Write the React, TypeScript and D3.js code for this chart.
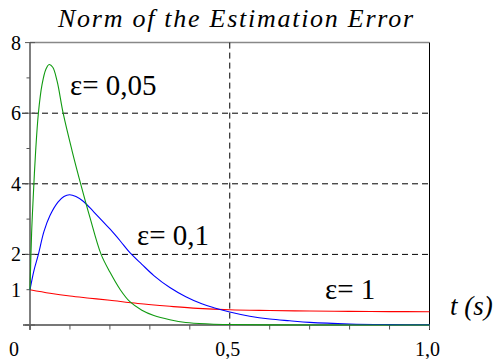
import { useEffect, useRef } from "react";
import * as d3 from "d3";

// values: [t, norm]
const epsSmall: [number, number][] = [
  [0, 1.0], [0.004, 2.6], [0.008, 3.6], [0.014, 4.9], [0.021, 6.0], [0.03, 6.8],
  [0.04, 7.25], [0.048, 7.38], [0.057, 7.3], [0.068, 6.9], [0.083, 6.0],
  [0.105, 4.95], [0.128, 3.95], [0.15, 3.05], [0.178, 2.0], [0.2, 1.5],
  [0.226, 1.0], [0.25, 0.66], [0.28, 0.42], [0.31, 0.27], [0.35, 0.15],
  [0.39, 0.07], [0.45, 0.03], [0.5, 0.015], [0.6, 0.004], [0.8, 0.0], [1.0, 0.0],
];
const epsMid: [number, number][] = [
  [0, 1.0], [0.01, 1.55], [0.021, 2.0], [0.035, 2.65], [0.05, 3.1], [0.07, 3.48],
  [0.085, 3.64], [0.099, 3.69], [0.115, 3.64], [0.134, 3.5], [0.16, 3.2],
  [0.2, 2.72], [0.226, 2.38], [0.25, 2.05], [0.28, 1.72], [0.31, 1.4],
  [0.35, 1.06], [0.39, 0.8], [0.43, 0.6], [0.46, 0.49], [0.5, 0.37],
  [0.55, 0.25], [0.6, 0.17], [0.65, 0.12], [0.7, 0.075], [0.8, 0.03],
  [0.9, 0.012], [1.0, 0.005],
];
const epsOne: [number, number][] = [
  [0, 1.0], [0.05, 0.9], [0.1, 0.82], [0.15, 0.76], [0.2, 0.7], [0.27, 0.61],
  [0.35, 0.53], [0.42, 0.47], [0.5, 0.43], [0.6, 0.41], [0.7, 0.395],
  [0.8, 0.385], [0.9, 0.38], [1.0, 0.375],
];

const xMajorTicks = [0, 0.5, 1.0];
const xTickLabels = ["0", "0,5", "1,0"];
const xMinorTicks = [0.1, 0.2, 0.3, 0.4, 0.6, 0.7, 0.8, 0.9];
const yMajorTicks = [0, 2, 4, 6, 8];
const yMinorTicks = [1, 3, 5, 7];
const yTickLabels = [1, 2, 4, 6, 8];
const yGrid = [2, 4, 6];
const xGrid = [0.5];
const curveLabels = ["ε= 0,05", "ε= 0,1", "ε= 1"];

const SERIF = "Liberation Serif, DejaVu Serif, Times New Roman, serif";

export default function App() {
  const ref = useRef<SVGSVGElement>(null);

  useEffect(() => {
    if (!ref.current) return;
    const svg = d3.select(ref.current);
    svg.selectAll("*").remove();

    const x = d3.scaleLinear().domain([0, 1]).range([30, 429.5]);
    const y = d3.scaleLinear().domain([0, 8]).range([325, 42.6]);

    // title
    svg.append("text")
      .attr("x", 58).attr("y", 27)
      .attr("font-family", SERIF)
      .attr("font-style", "italic").attr("font-size", 26)
      .attr("textLength", 355).attr("lengthAdjust", "spacing")
      .text("Norm of the Estimation Error");

    // frame: top + right
    svg.append("line").attr("x1", x(0)).attr("x2", x(1)).attr("y1", y(8)).attr("y2", y(8))
      .attr("stroke", "#888").attr("stroke-width", 1.5);
    svg.append("line").attr("x1", x(1)).attr("x2", x(1)).attr("y1", y(8)).attr("y2", y(0) + 5)
      .attr("stroke", "#000").attr("stroke-width", 1);

    // dashed grid
    const grid = svg.append("g").attr("stroke", "#000").attr("stroke-width", 1).attr("stroke-dasharray", "6,4");
    grid.selectAll("line.h").data(yGrid).enter().append("line")
      .attr("x1", x(0) - 8).attr("x2", x(1)).attr("y1", (d) => y(d)).attr("y2", (d) => y(d));
    grid.selectAll("line.v").data(xGrid).enter().append("line")
      .attr("x1", (d) => x(d)).attr("x2", (d) => x(d)).attr("y1", y(8)).attr("y2", y(0));

    // axes
    const axes = svg.append("g").attr("stroke", "#555");
    axes.append("line").attr("x1", x(0)).attr("x2", x(0)).attr("y1", y(8)).attr("y2", y(0) + 5).attr("stroke-width", 1.5);
    axes.append("line").attr("x1", x(0) - 7).attr("x2", x(1)).attr("y1", y(0)).attr("y2", y(0))
      .attr("stroke", "#777").attr("stroke-width", 2);
    axes.selectAll("line.ym").data(yMajorTicks).enter().append("line")
      .attr("x1", x(0) - 5).attr("x2", x(0) + 5).attr("y1", (d) => y(d)).attr("y2", (d) => y(d));
    axes.selectAll("line.yn").data(yMinorTicks).enter().append("line")
      .attr("x1", x(0) - 3.5).attr("x2", x(0)).attr("y1", (d) => y(d)).attr("y2", (d) => y(d));
    axes.selectAll("line.xm").data(xMajorTicks.concat(xMinorTicks)).enter().append("line")
      .attr("x1", (d) => x(d)).attr("x2", (d) => x(d)).attr("y1", y(0)).attr("y2", y(0) + 4.5);

    // tick labels
    svg.append("g").attr("font-family", SERIF).attr("font-size", 20).attr("text-anchor", "end")
      .selectAll("text").data(yTickLabels).enter().append("text")
      .attr("x", 21).attr("y", (d) => y(d) + 7).text((d) => String(d));
    svg.append("g").attr("font-family", SERIF).attr("font-size", 20).attr("text-anchor", "middle")
      .selectAll("text").data(xMajorTicks).enter().append("text")
      .attr("x", (d, i) => (i === 0 ? 14 : x(d) - 2)).attr("y", 356).text((d, i) => xTickLabels[i]);

    // curves
    const line = d3.line<[number, number]>().x((d) => x(d[0])).y((d) => y(d[1])).curve(d3.curveCatmullRom.alpha(0.5));
    const series = [
      { data: epsOne, color: "#ff0000" },
      { data: epsMid, color: "#0000ff" },
      { data: epsSmall, color: "#109a10" },
    ];
    svg.append("g").selectAll("path").data(series).enter().append("path")
      .attr("d", (d) => line(d.data) as string)
      .attr("fill", "none").attr("stroke", (d) => d.color).attr("stroke-width", 1.1);

    // curve labels
    const labelPos = [[70, 95], [137, 245], [325, 299]];
    svg.append("g").attr("font-family", SERIF).attr("font-size", 29)
      .selectAll("text").data(curveLabels).enter().append("text")
      .attr("x", (d, i) => labelPos[i][0]).attr("y", (d, i) => labelPos[i][1]).text((d) => d);

    // axis title
    svg.append("text").attr("x", 450).attr("y", 315)
      .attr("font-family", SERIF)
      .attr("font-style", "italic").attr("font-size", 27)
      .text("t (s)");
  }, []);

  return (
    <svg ref={ref} width={498} height={359}
      style={{ position: "absolute", left: 0, top: 0, background: "#fff" }} />
  );
}
